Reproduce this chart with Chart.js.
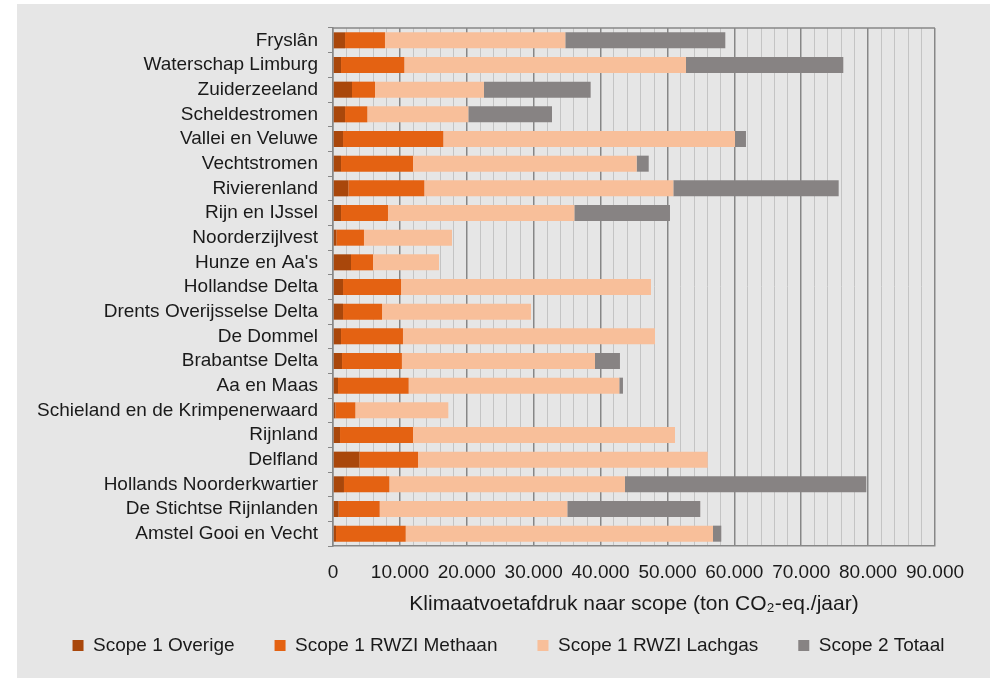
<!DOCTYPE html>
<html>
<head>
<meta charset="utf-8">
<script src="https://cdn.jsdelivr.net/npm/chart.js@4"></script>
<style>
  html, body { margin: 0; padding: 0; background: #ffffff; }
  #wrap { width: 990px; height: 678px; }
</style>
</head>
<body>
<div id="wrap"><canvas id="chart" width="990" height="678"></canvas></div>
<script>
const waterschappen = [
  'Fryslân', 'Waterschap Limburg', 'Zuiderzeeland', 'Scheldestromen', 'Vallei en Veluwe',
  'Vechtstromen', 'Rivierenland', 'Rijn en IJssel', 'Noorderzijlvest', "Hunze en Aa's",
  'Hollandse Delta', 'Drents Overijsselse Delta', 'De Dommel', 'Brabantse Delta', 'Aa en Maas',
  'Schieland en de Krimpenerwaard', 'Rijnland', 'Delfland', 'Hollands Noorderkwartier',
  'De Stichtse Rijnlanden', 'Amstel Gooi en Vecht'
];
const scope1Overige = [1800, 1200, 2840, 1800, 1500, 1200, 2290, 1200, 500, 2690, 1500, 1500, 1200, 1350, 750, 350, 1050, 3930, 1640, 850, 450];
const scope1Methaan = [5970, 9460, 3440, 3330, 14990, 10760, 11360, 7020, 4130, 3290, 8670, 5830, 9260, 8950, 10560, 2990, 10910, 8780, 6780, 6130, 10420];
const scope1Lachgas = [26960, 42110, 16290, 15100, 43610, 33440, 37230, 27860, 13160, 9870, 37370, 22270, 37680, 28870, 31490, 13900, 39170, 43310, 35230, 28050, 45940];
const scope2Totaal = [23920, 23520, 15950, 12510, 1640, 1800, 24720, 14300, 0, 0, 0, 0, 0, 3730, 550, 0, 0, 0, 36080, 19880, 1240];
const xTicks = [0, 10000, 20000, 30000, 40000, 50000, 60000, 70000, 80000, 90000];

const FONT = "'Liberation Sans', Arial, sans-serif";

const panelBg = {
  id: 'panelBg',
  beforeDraw(chart) {
    const ctx = chart.ctx;
    ctx.save();
    ctx.fillStyle = '#ffffff';
    ctx.fillRect(0, 0, chart.width, chart.height);
    ctx.fillStyle = '#e6e6e6';
    ctx.fillRect(17, 4, chart.width - 17, chart.height - 4);
    ctx.restore();
  },
  beforeDatasetsDraw(chart) {
    const a = chart.chartArea, ctx = chart.ctx;
    ctx.save();
    ctx.strokeStyle = '#878787';
    ctx.lineWidth = 1.5;
    ctx.beginPath();
    ctx.moveTo(a.left, a.top);
    ctx.lineTo(a.right, a.top);
    ctx.stroke();
    ctx.restore();
  }
};

const fmt = v => v === 0 ? '0' : v.toLocaleString('de-DE');

new Chart(document.getElementById('chart'), {
  type: 'bar',
  data: {
    labels: waterschappen,
    datasets: [
      { label: 'Scope 1 Overige', data: scope1Overige, backgroundColor: '#a9470b' },
      { label: 'Scope 1 RWZI Methaan', data: scope1Methaan, backgroundColor: '#e46212' },
      { label: 'Scope 1 RWZI Lachgas', data: scope1Lachgas, backgroundColor: '#f8bf9a' },
      { label: 'Scope 2 Totaal', data: scope2Totaal, backgroundColor: '#878383' }
    ]
  },
  options: {
    indexAxis: 'y',
    responsive: false,
    animation: false,
    layout: { padding: { top: 28, right: 0, left: 27, bottom: 13 } },
    datasets: { bar: { categoryPercentage: 0.65, barPercentage: 1, borderWidth: 0 } },
    plugins: {
      legend: {
        position: 'bottom',
        align: 'center',
        labels: {
          color: '#1a1a1a',
          font: { family: FONT, size: 19 },
          boxWidth: 11, boxHeight: 11, padding: 40
        }
      },
      tooltip: { enabled: false }
    },
    scales: {
      x: {
        stacked: true,
        min: 0, max: 90000,
        afterBuildTicks(scale) {
          const t = [];
          for (let v = 0; v <= 90000; v += 2000) t.push({ value: v });
          scale.ticks = t;
        },
        ticks: {
          autoSkip: false, maxRotation: 0, padding: 15,
          color: '#1a1a1a',
          font: { family: FONT, size: 19 },
          callback: v => xTicks.includes(v) ? fmt(v) : ''
        },
        grid: {
          drawTicks: false,
          color: c => xTicks.includes(c.tick.value) ? '#878787' : '#c4c4c4',
          lineWidth: c => xTicks.includes(c.tick.value) ? 1.5 : 1
        },
        border: { color: '#878787', width: 1.5 },
        title: {
          display: true,
          text: 'Klimaatvoetafdruk naar scope (ton CO₂-eq./jaar)',
          color: '#1a1a1a',
          font: { family: FONT, size: 21 },
          padding: { top: -7, bottom: -21 }
        }
      },
      y: {
        stacked: true,
        afterFit(scale) { scale.width = 306; },
        ticks: {
          autoSkip: false, padding: 10,
          color: '#1a1a1a',
          font: { family: FONT, size: 19 }
        },
        grid: { drawOnChartArea: false, drawTicks: true, tickLength: 5, color: '#878787' },
        border: { color: '#878787', width: 1.5 }
      },
      spacer: {
        type: 'linear',
        position: 'right',
        display: true,
        afterFit(scale) { scale.width = 55; },
        ticks: { display: false },
        grid: { display: false },
        border: { display: false }
      }
    }
  },
  plugins: [panelBg]
});
</script>
</body>
</html>
